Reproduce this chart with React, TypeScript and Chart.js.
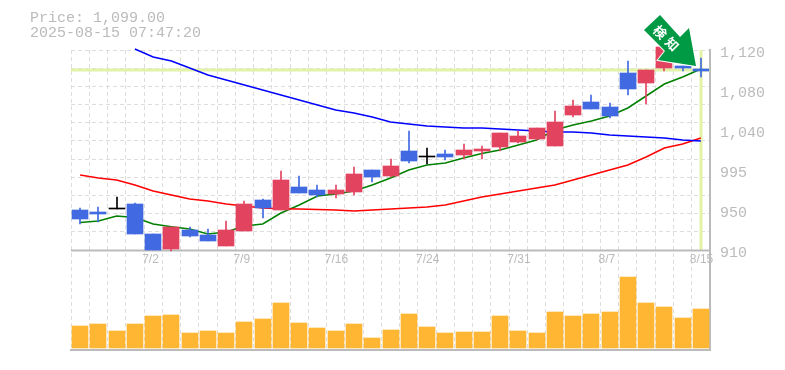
import React, { useEffect, useRef } from "react";
import { Chart, registerables } from "chart.js";

Chart.register(...registerables);

const categories = ["6/26","6/27","6/30","7/1","7/2","7/3","7/4","7/7","7/8","7/9","7/10","7/11","7/14","7/15","7/16","7/17","7/18","7/22","7/23","7/24","7/25","7/28","7/29","7/30","7/31","8/1","8/4","8/5","8/6","8/7","8/8","8/12","8/13","8/14","8/15"];
const shownDates = ["7/2","7/9","7/16","7/24","7/31","8/7","8/15"];

const opens = [952,949.9,954.1,958.3,926.8,911.05,931,925.75,914.2,929.95,962.5,952,976.15,973,968.8,970.9,994,987.7,1014,1008.7,1010.8,1009.75,1013.95,1018.15,1023.4,1026.55,1019.2,1051.75,1065.4,1060.15,1095.85,1085.35,1101.1,1103.2,1100.05];
const closes = [942.5,947.8,954.1,926.8,910,934.2,924.7,919.45,931,958.3,954.1,983.5,969.85,967.75,973,989.8,986.65,998.2,1003.45,1008.7,1007.65,1015,1016.05,1032.85,1029.7,1038.1,1044.4,1061.2,1058.05,1050.7,1079.05,1099,1123,1101.1,1098];
const highs = [954.1,955.2,965.7,959.35,926.8,934.2,934.2,932.05,940.45,961.45,963.55,993,987.7,978.25,978.25,997.15,994,1005.55,1034.95,1017.1,1015,1021.3,1019.2,1032.85,1034.95,1038.1,1055.95,1067.5,1072.75,1064.35,1108.45,1099,1123,1103.2,1111.6];
const lows = [937.3,939.7,953.1,926.8,910,909,923.65,919.45,914.2,929.95,943.6,952,969.85,965.65,964.6,967.75,981.4,986.65,1001.35,1000.3,1004.5,1005.55,1005.55,1013.95,1022.35,1025.5,1019.2,1049.65,1058.05,1048.6,1072.75,1063.3,1098,1098,1091.65];

const maShort = [938.9,940.45,945.7,944.1,937.3,934.5,932.05,926.8,928.9,935.2,937.3,948.85,957.25,966.7,968.8,971.95,978.25,985.6,994,999.25,1001.35,1006.6,1011.3,1015,1020.25,1025.5,1036,1041.25,1045.45,1050.7,1059.1,1071.7,1084.3,1091.65,1100.05];
const maMiddle = [988.75,985.6,983.5,978.25,971.95,967.75,963.55,961.45,958.3,956.2,954.1,953.4,953.05,952.5,952,950.95,952,953.05,954.1,955.15,957.25,961.45,965.65,968.8,971.95,975.1,978.25,983.5,988.75,994,999.25,1007.65,1017.1,1021.3,1027.6];
const maLong = [null,null,null,1121,1112.65,1108.45,1101.1,1093.75,1088.5,1083.25,1078,1072.75,1067.5,1062.25,1057,1053.85,1049.65,1044.4,1042.3,1040.2,1039.15,1038.1,1038.1,1037.05,1036,1034.95,1033.9,1033.9,1032.85,1030.75,1029.7,1028.65,1027.6,1025.5,1024.45];
const volumes = [22,24,17,24,32,33,15,17,15,26,29,45,25,20,17,24,10,18,34,21,15,16,16,32,17,15,36,32,34,36,71,45,41,30,39];

const lastPrice = 1099;
const titleLines = ["Price: 1,099.00", "2025-08-15 07:47:20"];
const arrowLabel = ["検", "知"];
const priceLabelValues = [1120, 1078, 1036, 994, 952, 910];
const priceLabels = ["1,120", "1,080", "1,040", "995", "950", "910"];
const gridValues = [1120,1100.91,1081.82,1062.73,1043.64,1024.55,1005.45,986.36,967.27,948.18,929.09,910];

const BLUE = "#4169e1";
const RED = "#e2435f";
const GREY = "#bbbbbb";
const GRID = "#dddddd";
const YELLOW = "#e2f3a8";
const ARROW = "#009944";
const MONO = '"Liberation Mono", monospace';

const candleColors = opens.map((o, i) => (closes[i] === o ? "#000000" : closes[i] > o ? RED : BLUE));

const decor = {
  id: "decor",
  afterDatasetUpdate(chart: any, args: any) {
    const ds = chart.data.datasets[args.index];
    if (ds.type === "line") return;
    for (const el of args.meta.data) {
      el.x = Math.round(el.x);
      el.y = Math.round(el.y);
      el.base = Math.round(el.base);
      if (Math.abs(el.y - el.base) < 1 && ds.label === "Candle") el.base = el.y + 1;
    }
  },
  beforeDatasetsDraw(chart: any) {
    const { ctx, chartArea: a, scales } = chart;
    const y = Math.round(scales.y.getPixelForValue(lastPrice));
    const x = chart.getDatasetMeta(0).data[categories.length - 1].x;
    ctx.save();
    ctx.fillStyle = YELLOW;
    ctx.fillRect(a.left, y - 1.5, a.right - a.left, 3);
    ctx.fillRect(x - 1.5, a.top, 3, scales.y.bottom - a.top);
    ctx.fillStyle = GREY;
    ctx.fillRect(a.left, scales.y.bottom - 0.5, a.right - a.left + 1, 2);
    ctx.restore();
  },
  afterDatasetsDraw(chart: any) {
    const { ctx } = chart;
    ctx.save();
    ctx.fillStyle = GREY;
    ctx.font = `15px ${MONO}`;
    ctx.textBaseline = "middle";
    titleLines.forEach((t: string, i: number) => ctx.fillText(t, 30, 18 + i * 15));
    const pts = [[660,15],[644,30],[665,51],[658,60],[696,66],[689,28],[680,37]];
    ctx.beginPath();
    pts.forEach((p, i) => (i ? ctx.lineTo(p[0], p[1]) : ctx.moveTo(p[0], p[1])));
    ctx.closePath();
    ctx.lineWidth = 2;
    ctx.strokeStyle = "#ffffff";
    ctx.stroke();
    ctx.fillStyle = ARROW;
    ctx.fill();
    ctx.fillStyle = "#ffffff";
    ctx.font = 'bold 13px "Noto Sans CJK JP"';
    ctx.textAlign = "center";
    ctx.textBaseline = "middle";
    [[660, 32], [672, 44]].forEach((p, i) => {
      ctx.save();
      ctx.translate(p[0], p[1]);
      ctx.rotate(Math.PI / 4);
      ctx.fillText(arrowLabel[i], 0, 0);
      ctx.restore();
    });
    ctx.restore();
  },
};

export default function App() {
  const ref = useRef<HTMLCanvasElement>(null);
  useEffect(() => {
    const line = (label: string, data: any[], color: string) => ({
      type: "line", label, data, yAxisID: "y", borderColor: color, borderWidth: 1.5,
      pointRadius: 0, order: 5, clip: false, spanGaps: false, tension: 0,
    });
    const chart = new Chart(ref.current as any, {
      type: "bar",
      data: {
        labels: categories,
        datasets: [
          { label: "Candle", data: opens.map((o, i) => [o, closes[i]]), yAxisID: "y", backgroundColor: candleColors, barThickness: 16, grouped: false, order: 1, clip: false },
          { label: "Wick", data: lows.map((l, i) => [l, highs[i]]), yAxisID: "y", backgroundColor: candleColors, barThickness: 1, grouped: false, order: 2, clip: false },
          line("MA long", maLong, "#0000ff"),
          line("MA middle", maMiddle, "#ff0000"),
          line("MA short", maShort, "#008000"),
          { label: "Volume", data: volumes, yAxisID: "yVol", backgroundColor: "#ffb733", barThickness: 16, grouped: false, order: 3 },
        ] as any,
      },
      plugins: [decor],
      options: {
        responsive: false,
        animation: false,
        layout: { padding: { left: 71, top: 50, right: 0, bottom: 20 } },
        plugins: { legend: { display: false }, tooltip: { enabled: false }, title: { display: false } },
        scales: {
          x: {
            type: "category",
            position: "bottom",
            offset: true,
            afterFit: (s: any) => { s.height = 0; s.paddingLeft = 0; s.paddingRight = 0; s.paddingTop = 0; s.paddingBottom = 0; },
            grid: { offset: true, color: GRID, drawTicks: false },
            border: { color: GREY, width: 2, dash: [4, 3] },
            ticks: {
              autoSkip: false, maxRotation: 0, minRotation: 0, align: "start", labelOffset: -11, mirror: true, padding: 83,
              color: GREY, font: { family: '"Liberation Sans", sans-serif', size: 12 },
              callback(_v: any, i: number) { return shownDates.includes(categories[i]) ? categories[i] : ""; },
            },
          },
          y: {
            position: "right", stack: "panels", stackWeight: 2, min: 910, max: 1120,
            afterFit: (s: any) => { s.width = 75; },
            afterBuildTicks: (s: any) => {
              const vals = [...new Set([...gridValues, ...priceLabelValues])].sort((a, b) => a - b);
              s.ticks = vals.map((value) => ({ value }));
            },
            grid: {
              drawTicks: false,
              color: (c: any) => (c.tick && gridValues.includes(c.tick.value) ? GRID : "rgba(0,0,0,0)"),
            },
            border: { color: GREY, width: 2, dash: [4, 3] },
            ticks: {
              autoSkip: false, padding: 10, labelOffset: 3, color: GREY, font: { family: MONO, size: 15 },
              callback(v: any) { const i = priceLabelValues.indexOf(v); return i >= 0 ? priceLabels[i] : ""; },
            },
          },
          yVol: {
            position: "right", stack: "panels", stackWeight: 1, min: -2, max: 98,
            afterFit: (s: any) => { s.width = 75; },
            grid: { display: false },
            border: { color: GREY, width: 2 },
            ticks: { display: false },
          },
        },
      } as any,
    });
    return () => chart.destroy();
  }, []);
  return (
    <div style={{ position: "absolute", left: 0, top: 0 }}>
      <canvas ref={ref} width={785} height={370} style={{ display: "block" }} />
    </div>
  );
}
